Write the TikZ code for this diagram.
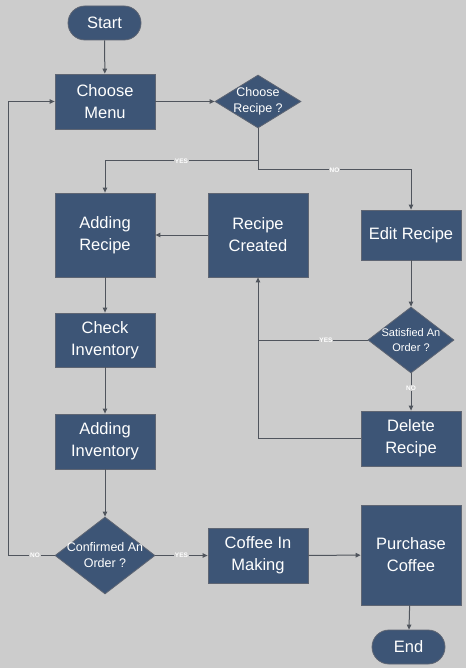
\documentclass[tikz,border=0pt]{standalone}
\usepackage{fontspec}
\setmainfont{Liberation Sans}
\usetikzlibrary{shapes.geometric,arrows.meta}
\definecolor{bg}{HTML}{CCCCCC}
\definecolor{boxfill}{HTML}{3D5576}
\definecolor{boxline}{HTML}{5E6573}
\definecolor{conn}{HTML}{50555D}
\tikzset{
  box/.style={draw=boxline, line width=0.8pt, fill=boxfill, text=white, align=center,
    inner sep=0pt, font=\fontsize{16.5}{22}\selectfont},
  term/.style={box, rounded rectangle},
  dia/.style={diamond, draw=boxline, line width=0.8pt, fill=boxfill, inner sep=0pt},
  dtext/.style={text=white, align=center, font=\fontsize{12.5}{16}\selectfont},
  arr/.style={draw=conn, line width=1pt, -{Triangle[length=5pt,width=4.5pt]}},
  ln/.style={draw=conn, line width=1pt},
  lab/.style={fill=bg, text=white, inner sep=0.8pt, font=\fontsize{6.5}{7}\selectfont\bfseries},
}
\usetikzlibrary{shapes.misc}
\begin{document}
\begin{tikzpicture}[x=1pt,y=1pt]
\fill[bg] (0,0) rectangle (466,-668);
\useasboundingbox (0,0) rectangle (466,-668);

\node[term, minimum width=73pt, minimum height=34pt] (start) at (104.5,-23) {Start};
\node[box, minimum width=100pt, minimum height=55pt] (menu) at (105,-101.5) {Choose\\Menu};
\node[dia, minimum width=86pt, minimum height=53pt, label={[dtext]center:Choose\\Recipe ?}] (cr) at (258,-101.5) {};
\node[box, minimum width=100pt, minimum height=84pt] (addrec) at (105,-235) {Adding\\Recipe};
\node[box, minimum width=100pt, minimum height=84pt] (rc) at (258,-235) {Recipe\\Created};
\node[box, minimum width=100pt, minimum height=50pt] (edit) at (411,-235) {Edit Recipe};
\node[dia, minimum width=86pt, minimum height=66pt, label={[dtext, font=\fontsize{11}{15}\selectfont]center:Satisfied An\\Order ?}] (sat) at (411,-340) {};
\node[box, minimum width=100pt, minimum height=55pt] (del) at (411,-438.5) {Delete\\Recipe};
\node[box, minimum width=100pt, minimum height=54pt] (check) at (105,-340) {Check\\Inventory};
\node[box, minimum width=100pt, minimum height=55pt] (addinv) at (105,-441.5) {Adding\\Inventory};
\node[dia, minimum width=100pt, minimum height=77pt, label={[dtext]center:Confirmed An\\Order ?}] (conf) at (105,-555.5) {};
\node[box, minimum width=100pt, minimum height=55pt] (coffee) at (258,-555.5) {Coffee In\\Making};
\node[box, minimum width=100pt, minimum height=100pt] (buy) at (411,-555) {Purchase\\Coffee};
\node[term, minimum width=73pt, minimum height=34pt] (end) at (408.5,-647) {End};

\coordinate (j1) at (258,-161);
\coordinate (j2) at (258,-170);
\coordinate (j3) at (258,-340.5);
\coordinate (lp) at (8,-555.5);

\draw[arr] (start) -- (menu);
\draw[arr] (menu.east) -- (cr.west);
\draw[ln] (cr.south) -- (j2);
\draw[arr] (j1) -| node[lab, pos=0.25]{YES} (addrec.north);
\draw[arr] (j2) -| node[lab, pos=0.25]{NO} (edit.north);
\draw[arr] (rc.west) -- (addrec.east);
\draw[arr] (edit) -- (sat);
\draw[arr] (sat.west) -| node[lab, pos=0.19]{YES} (rc.south);
\draw[arr] (sat.south) -- node[lab, pos=0.4]{NO} (del.north);
\draw[ln] (del.west) -| (j3);
\draw[arr] (addrec) -- (check);
\draw[arr] (check) -- (addinv);
\draw[arr] (addinv) -- (conf);
\draw[arr] (conf.west) -- node[lab, pos=0.42]{NO} (lp) |- (menu.west);
\draw[arr] (conf.east) -- node[lab, pos=0.5]{YES} (coffee.west);
\draw[arr] (coffee) -- (buy);
\draw[arr] (buy) -- (end);
\end{tikzpicture}
\end{document}
